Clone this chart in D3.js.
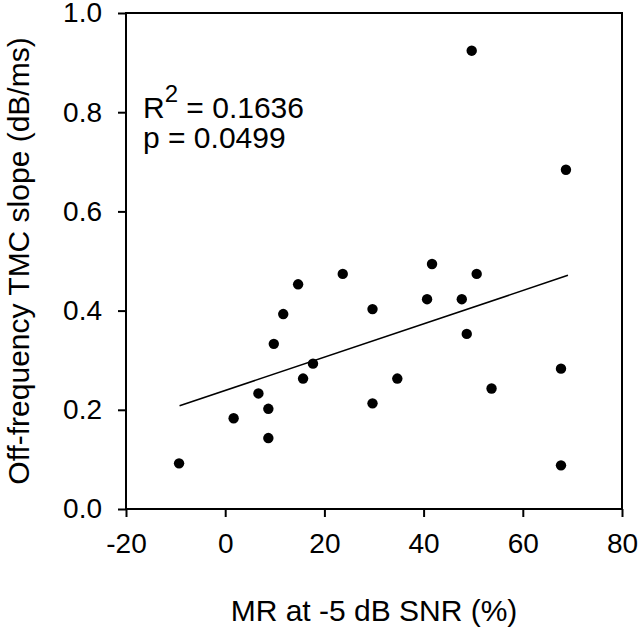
<!DOCTYPE html>
<html>
<head>
<meta charset="utf-8">
<script src="https://cdn.jsdelivr.net/npm/d3@7"></script>
<style>
  html, body { margin: 0; padding: 0; background: #fff; }
  svg text { font-family: Arial, "Liberation Sans", sans-serif; fill: #000; }
</style>
</head>
<body>
<div id="chart"></div>
<script>
// data
const mrValues = [-9.3, 1.7, 6.7, 8.7, 8.7, 9.8, 11.7, 14.7, 15.7, 17.7, 23.7, 29.7,
  29.7, 34.7, 40.7, 41.7, 47.7, 48.7, 49.7, 50.7, 53.7, 67.7, 67.7, 68.7];
const slopeValues = [0.092, 0.183, 0.233, 0.202, 0.143, 0.333, 0.393, 0.453, 0.263, 0.293, 0.474, 0.403,
  0.213, 0.263, 0.423, 0.494, 0.423, 0.353, 0.924, 0.474, 0.243, 0.283, 0.088, 0.684];
const fitRange = [-9.2, 69.1];
const fitSlope = 0.003357;
const fitIntercept = 0.2391;
const xTicks = [-20, 0, 20, 40, 60, 80];
const yTicks = [0, 0.2, 0.4, 0.6, 0.8, 1.0];
const statLines = ['= 0.1636', 'p = 0.0499'];

const width = 640, height = 634;
const margin = { top: 13, right: 18, bottom: 125, left: 126 };
const innerW = width - margin.left - margin.right;
const innerH = height - margin.top - margin.bottom;

const svg = d3.select('#chart').append('svg')
  .attr('width', width)
  .attr('height', height);

const g = svg.append('g')
  .attr('transform', `translate(${margin.left},${margin.top})`);

const x = d3.scaleLinear().domain([-20, 80]).range([0, innerW]);
const y = d3.scaleLinear().domain([0, 1]).range([innerH, 0]);

// frame
g.append('rect')
  .attr('width', innerW)
  .attr('height', innerH)
  .attr('fill', 'none')
  .attr('stroke', '#000')
  .attr('stroke-width', 2);

const xAxis = g.append('g')
  .attr('transform', `translate(0,${innerH})`)
  .call(d3.axisBottom(x).tickValues(xTicks).tickSize(8).tickPadding(16).tickFormat(d => String(d)));
const yAxis = g.append('g')
  .call(d3.axisLeft(y).tickValues(yTicks).tickSize(8).tickPadding(16).tickFormat(d3.format('.1f')));

[xAxis, yAxis].forEach(a => {
  a.select('.domain').remove();
  a.selectAll('line').attr('stroke', '#000').attr('stroke-width', 2);
  a.selectAll('text').style('font-size', '28px').attr('font-family', null);
});

// regression line
const line = d3.line().x(d => x(d)).y(d => y(fitIntercept + fitSlope * d));
g.append('path')
  .datum(fitRange)
  .attr('d', line)
  .attr('fill', 'none')
  .attr('stroke', '#000')
  .attr('stroke-width', 1.6);

// points
const pts = mrValues.map((v, i) => ({ mr: v, s: slopeValues[i] }));
g.selectAll('circle.pt').data(pts).enter().append('circle')
  .attr('class', 'pt')
  .attr('cx', d => x(d.mr))
  .attr('cy', d => y(d.s))
  .attr('r', 5.2)
  .attr('fill', '#000');

// stats text
const t1 = g.append('text')
  .attr('x', 17)
  .attr('y', 105)
  .style('font-size', '30px');
t1.append('tspan').text('R');
t1.append('tspan').attr('dy', -16).style('font-size', '24px').text('2');
t1.append('tspan').attr('dy', 16).text(' ' + statLines[0]);

g.append('text')
  .attr('x', 17)
  .attr('y', 135)
  .style('font-size', '30px')
  .text(statLines[1]);

// axis titles
svg.append('text')
  .attr('x', margin.left + innerW / 2)
  .attr('y', 621)
  .attr('text-anchor', 'middle')
  .style('font-size', '30px')
  .text('MR at -5 dB SNR (%)');

svg.append('text')
  .attr('transform', `translate(29,${margin.top + innerH / 2}) rotate(-90)`)
  .attr('text-anchor', 'middle')
  .style('font-size', '30px')
  .text('Off-frequency TMC slope (dB/ms)');
</script>
</body>
</html>
